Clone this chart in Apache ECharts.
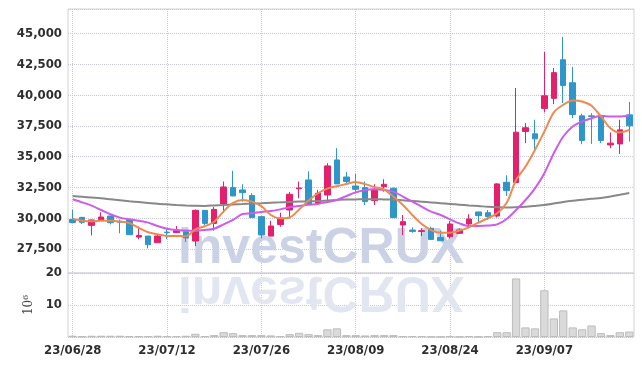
<!DOCTYPE html>
<html>
<head>
<meta charset="utf-8">
<script src="https://cdn.jsdelivr.net/npm/echarts@6/dist/echarts.min.js"></script>
<style>
  html, body { margin: 0; padding: 0; background: #fff; }
  #chart { width: 642px; height: 366px; }
</style>
</head>
<body>
<div id="chart"></div>
<script>
const dates = [
  "23/06/28", "23/06/29", "23/06/30", "23/07/03", "23/07/04", "23/07/05", "23/07/06", "23/07/07", "23/07/10", "23/07/11",
  "23/07/12", "23/07/13", "23/07/14", "23/07/17", "23/07/18", "23/07/19", "23/07/20", "23/07/21", "23/07/24", "23/07/25",
  "23/07/26", "23/07/27", "23/07/28", "23/07/31", "23/08/01", "23/08/02", "23/08/03", "23/08/04", "23/08/07", "23/08/08",
  "23/08/09", "23/08/10", "23/08/11", "23/08/14", "23/08/16", "23/08/17", "23/08/18", "23/08/21", "23/08/22", "23/08/23",
  "23/08/24", "23/08/25", "23/08/28", "23/08/29", "23/08/30", "23/08/31", "23/09/01", "23/09/04", "23/09/05", "23/09/06",
  "23/09/07", "23/09/08", "23/09/11", "23/09/12", "23/09/13", "23/09/14", "23/09/15", "23/09/18", "23/09/19", "23/09/20"
];

// [open, close, low, high]
const ohlc = [
  [29900, 29650, 29600, 30700], [30070, 29670, 29530, 30100], [29420, 29860, 28600, 29900], [29860, 30100, 29850, 30480],
  [30180, 29640, 29500, 30200], [29720, 29670, 28770, 29900], [29850, 28660, 28650, 29860], [28470, 28600, 28300, 29310],
  [28550, 27850, 27550, 28560], [28010, 28550, 28000, 28720], [28870, 28830, 28300, 29180], [28830, 28990, 28800, 29370],
  [28900, 28400, 28070, 28950], [28150, 30640, 27740, 30720], [30640, 29580, 29450, 30650], [29580, 30720, 28990, 30910],
  [31160, 32540, 30450, 32980], [32490, 31810, 31800, 33850], [32300, 32080, 31350, 32760], [31840, 30050, 30040, 32030],
  [30130, 28640, 28360, 30150], [28550, 29370, 28540, 29800], [29480, 30020, 29310, 30450], [30670, 31950, 29990, 32140],
  [32400, 32460, 31620, 32980], [33110, 31160, 31150, 33820], [31210, 32030, 31080, 32300], [31890, 34250, 31480, 34470],
  [34740, 32790, 32780, 35690], [33350, 32980, 32700, 33750], [32620, 32350, 32160, 33600], [32490, 31350, 31080, 32980],
  [31430, 32350, 31080, 32760], [32570, 32760, 32160, 33170], [32430, 30050, 30040, 32490], [29450, 29720, 28630, 30260],
  [29040, 28930, 28820, 29260], [28930, 28990, 28550, 29180], [29180, 28280, 28230, 29310], [28440, 28170, 28160, 28990],
  [28500, 29530, 28360, 29770], [28770, 29040, 28760, 29180], [29530, 29940, 29370, 30320], [30510, 30210, 29640, 30520],
  [30450, 30130, 29860, 30670], [30180, 32790, 30070, 32840], [32920, 32240, 31810, 33490], [32900, 36990, 32840, 40580],
  [37050, 37350, 36100, 37730], [36860, 36450, 35610, 38000], [38920, 39950, 38600, 43510], [39740, 41830, 39270, 42210],
  [42880, 40790, 39360, 44730], [41010, 38430, 38130, 42290], [38320, 36320, 36020, 38490], [38320, 38270, 36040, 38540],
  [38320, 36320, 36100, 38350], [35960, 36100, 35690, 36970], [36040, 37180, 35230, 38000], [38400, 37510, 36230, 39440]
];

const ma5 = [
  29950, 29800, 29750, 29800, 29800, 29740, 29600, 29220, 28860, 28690,
  28560, 28550, 28540, 29090, 29350, 29720, 30560, 31240, 31480, 31350,
  30980, 30260, 29990, 30060, 30700, 31440, 32030, 32410, 32600, 32780,
  32950, 32770, 32530, 32340, 31750, 31080, 30260, 29530, 29040, 28820,
  28820, 28990, 29260, 29640, 30000, 30400, 31250, 33100, 34200, 35550,
  37050, 38600, 39220, 39570, 39490, 39140, 38270, 37320, 36970, 37180
];

const ma20 = [
  31540, 31290, 31020, 30670, 30320, 30050, 29910, 29800, 29640, 29370,
  29150, 29040, 29000, 28980, 29040, 29150, 29500, 29860, 30340, 30400,
  30510, 30590, 30720, 30890, 31000, 31100, 31160, 31320, 31480, 31800,
  32100, 32300, 32350, 32300, 32160, 31760, 31350, 30940, 30530, 30260,
  29910, 29580, 29370, 29370, 29400, 29500, 29940, 30670, 31480, 32430,
  33660, 35280, 36640, 37460, 37860, 38130, 38320, 38270, 38270, 38350
];

const ma60 = [
  31800, 31740, 31680, 31620, 31540, 31460, 31380, 31310, 31240, 31170,
  31130, 31080, 31040, 31010, 31000, 31040, 31080, 31120, 31150, 31190,
  31220, 31260, 31290, 31320, 31350, 31380, 31400, 31440, 31480, 31520,
  31530, 31540, 31540, 31530, 31520, 31460, 31400, 31340, 31280, 31220,
  31160, 31100, 31040, 30990, 30930, 30890, 30880, 30900, 30930, 31000,
  31080, 31200, 31320, 31420, 31500, 31580, 31640, 31760, 31900, 32050
];

// millions of shares
const volume = [
  0.4, 0.2, 0.4, 0.4, 0.4, 0.4, 0.3, 0.3, 0.3, 0.4,
  0.3, 0.3, 0.4, 1.0, 0.3, 0.6, 1.5, 1.2, 0.6, 0.6,
  0.6, 0.5, 0.3, 0.9, 1.3, 0.9, 0.6, 2.4, 2.7, 0.6,
  0.6, 0.5, 0.6, 0.6, 0.6, 0.3, 0.3, 0.3, 0.1, 0.1,
  0.3, 0.1, 0.3, 0.1, 0.3, 1.5, 1.5, 18.3, 3.0, 2.7,
  14.6, 5.8, 8.3, 3.0, 2.4, 3.6, 1.2, 0.6, 1.5, 1.7
];

const upColor = "#e3206b";
const downColor = "#2f96c9";
const labelFont = '"DejaVu Sans Condensed", "DejaVu Sans", sans-serif';
const gridLine = { type: "dotted", color: "#c4c6d6", width: 1 };
const tickLabel = {
  fontFamily: labelFont,
  fontSize: 13,
  fontWeight: "bold",
  color: "#2e2e2e",
};

const chart = echarts.init(document.getElementById("chart"));

chart.setOption({
  animation: false,
  grid: [
    { left: 68, right: 8, top: 9, height: 264, show: true, borderColor: "#d2d2da", borderWidth: 1 },
    { left: 68, right: 8, top: 273, height: 64, show: true, borderColor: "#d2d2da", borderWidth: 1 },
  ],
  graphic: [
    {
      type: "text",
      x: 321,
      y: 249,
      z: 1,
      silent: true,
      style: {
        text: "investCRUX",
        font: 'bold 50px "Liberation Sans"',
        fill: "#cbd2e5",
        align: "center",
        verticalAlign: "middle",
        textAlign: "center",
        textVerticalAlign: "middle",
      },
    },
    {
      type: "text",
      x: 321,
      y: 291,
      scaleY: -1,
      z: 1,
      silent: true,
      style: {
        text: "investCRUX",
        font: 'bold 50px "Liberation Sans"',
        fill: "#e2e6f0",
        align: "center",
        verticalAlign: "middle",
        textAlign: "center",
        textVerticalAlign: "middle",
      },
    },
  ],
  xAxis: [
    {
      type: "category",
      gridIndex: 0,
      data: dates,
      boundaryGap: true,
      axisLine: { show: false },
      axisTick: { show: false },
      axisLabel: { show: false, interval: 9 },
      splitLine: { show: true, interval: 9, alignWithLabel: true, lineStyle: gridLine },
    },
    {
      type: "category",
      gridIndex: 1,
      data: dates,
      boundaryGap: true,
      axisLine: { show: false },
      axisTick: { show: false },
      axisLabel: { interval: 9, margin: 7, ...tickLabel },
      splitLine: { show: true, interval: 9, alignWithLabel: true, lineStyle: gridLine },
    },
  ],
  yAxis: [
    {
      type: "value",
      gridIndex: 0,
      min: 25550,
      max: 47000,
      minInterval: 2500,
      maxInterval: 2500,
      axisLine: { show: false },
      axisTick: { show: false },
      axisLabel: {
        showMinLabel: false,
        showMaxLabel: false,
        margin: 6,
        ...tickLabel,
        formatter: (v) => v.toLocaleString("en-US"),
      },
      splitLine: { lineStyle: gridLine },
    },
    {
      type: "value",
      gridIndex: 1,
      min: 0,
      max: 20,
      interval: 10,
      name: "10\u2076",
      nameLocation: "middle",
      nameRotate: 90,
      nameGap: 24,
      nameTextStyle: { fontFamily: "DejaVu Serif", fontSize: 12, color: "#444" },
      axisLine: { show: false },
      axisTick: { show: false },
      axisLabel: { showMinLabel: false, margin: 6, ...tickLabel },
      splitLine: { lineStyle: gridLine },
    },
  ],
  series: [
    {
      name: "price",
      type: "candlestick",
      xAxisIndex: 0,
      yAxisIndex: 0,
      data: ohlc,
      barWidth: 6,
      z: 2,
      itemStyle: {
        color: upColor,
        color0: downColor,
        borderColor: upColor,
        borderColor0: downColor,
        borderWidth: 1,
      },
    },
    {
      name: "MA60",
      type: "line",
      data: ma60,
      smooth: 0.3,
      showSymbol: false,
      z: 3,
      lineStyle: { color: "#888888", width: 2 },
    },
    {
      name: "MA20",
      type: "line",
      data: ma20,
      smooth: 0.3,
      showSymbol: false,
      z: 3,
      lineStyle: { color: "#cc5ce9", width: 2 },
    },
    {
      name: "MA5",
      type: "line",
      data: ma5,
      smooth: 0.3,
      showSymbol: false,
      z: 3,
      lineStyle: { color: "#ee8a50", width: 2 },
    },
    {
      name: "volume",
      type: "bar",
      xAxisIndex: 1,
      yAxisIndex: 1,
      data: volume,
      barWidth: "88%",
      itemStyle: { color: "#dadada", borderColor: "#bcbcbc", borderWidth: 1 },
    },
  ],
});

window.addEventListener("resize", () => chart.resize());
</script>
</body>
</html>
